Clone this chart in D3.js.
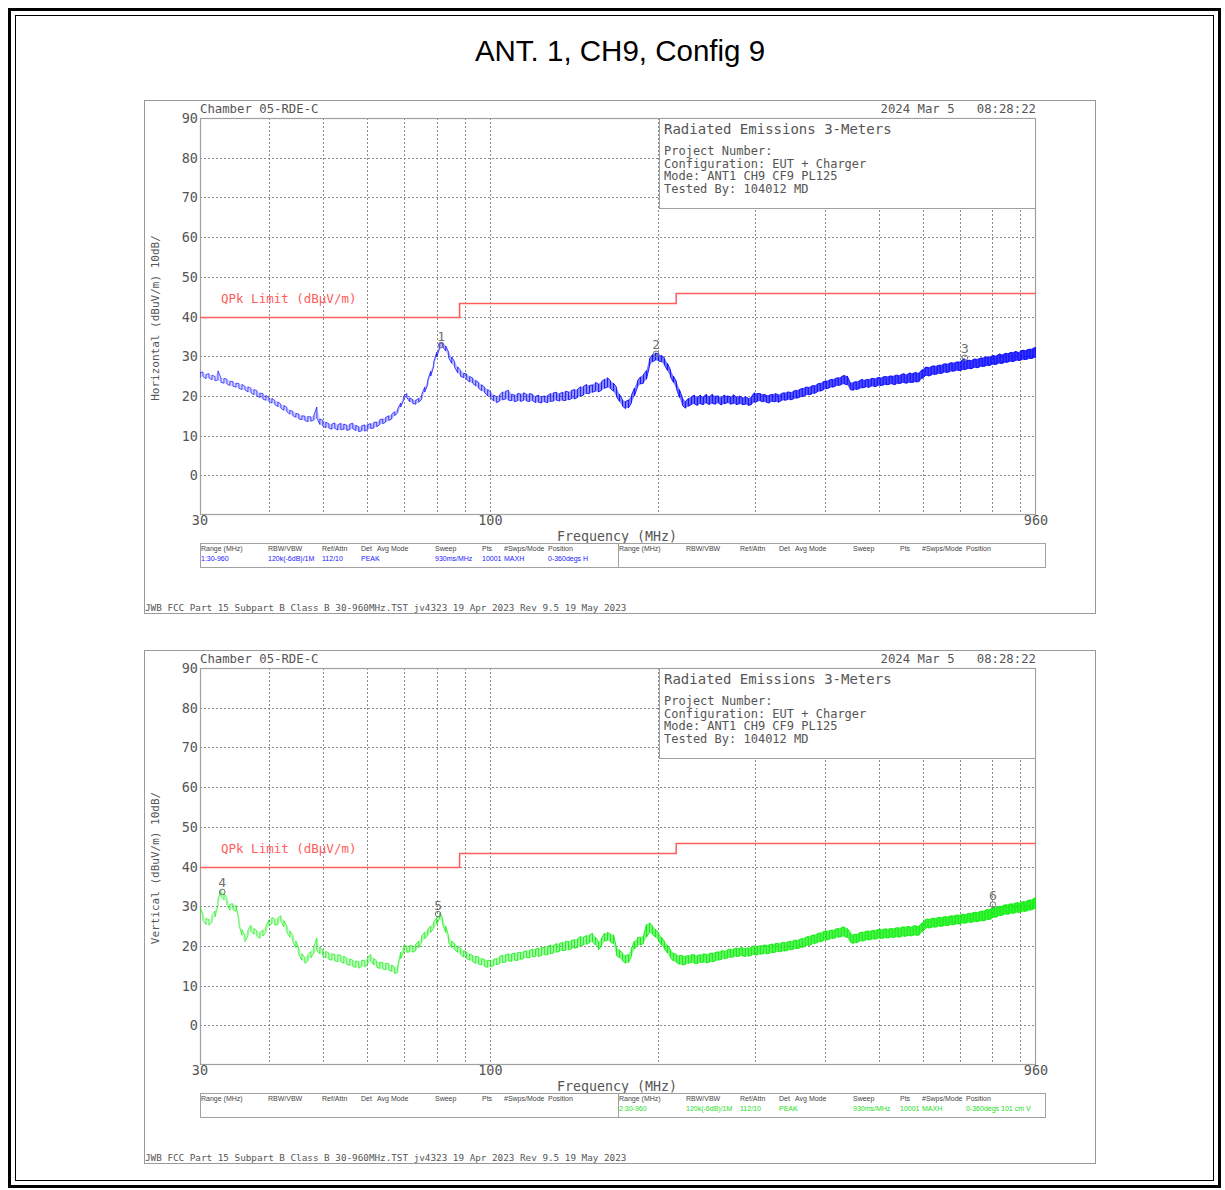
<!DOCTYPE html>
<html>
<head>
<meta charset="utf-8">
<script src="https://cdn.jsdelivr.net/npm/d3@7"></script>
<style>
  body { margin: 0; background: #fff; }
  svg { display: block; }
</style>
</head>
<body>
<svg id="chart" width="1225" height="1190"></svg>
<script>
// ---- Data -------------------------------------------------------------
const chartTitle = "ANT. 1, CH9, Config 9";

// Y grid levels (dBuV/m) and X grid frequencies (MHz)
const yTicks = [0, 10, 20, 30, 40, 50, 60, 70, 80, 90];
const xGridFreqs = [40, 50, 60, 70, 80, 90, 100, 200, 300, 400, 500, 600, 700, 800, 900];
const xTickLabels = [30, 100, 960];

// FCC Part 15 Class B quasi-peak limit at 3 m (step function)
const limitFreqs = [30, 88, 88, 216, 216, 960];
const limitLevels = [40, 40, 43.5, 43.5, 46, 46];

// Sweep span; trace readings are taken at equal steps on the log axis
const sweepStart = 30;
const sweepStop = 960;

// Horizontal antenna, max-hold: lowest / highest level per reading (dBuV/m)
const horizontalLow = [
  24.6, 24.9, 24.3, 24.5, 24.1, 23.8, 24.0, 23.4, 23.2, 23.0,
  22.6, 22.4, 22.2, 21.9, 21.6, 21.5, 21.0, 20.8, 20.3, 20.0,
  19.6, 19.2, 18.9, 18.6, 18.2, 17.8, 17.3, 16.9, 16.4, 16.0,
  15.4, 15.0, 14.6, 14.2, 14.0, 13.8, 13.5, 13.6, 13.9, 14.4,
  12.8, 12.4, 12.0, 11.9, 11.6, 11.8, 11.4, 11.5, 11.6, 11.3,
  11.5, 11.7, 11.3, 11.0, 11.2, 11.1, 11.6, 11.8, 11.9, 12.2,
  12.8, 13.0, 13.4, 13.8, 14.2, 15.0, 15.8, 17.2, 19.0, 19.6,
  18.5, 18.1, 17.9, 18.4, 19.2, 21.0, 22.8, 25.0, 27.4, 29.8,
  32.0, 32.4, 31.3, 29.6, 28.2, 27.2, 25.8, 24.9, 24.6, 24.1,
  23.5, 23.2, 22.5, 21.9, 21.3, 20.8, 20.0, 19.5, 18.7, 18.3,
  18.7, 19.0, 19.2, 18.9, 18.8, 18.5, 18.8, 18.6, 18.9, 18.7,
  18.6, 18.8, 18.3, 18.4, 18.2, 18.5, 18.3, 18.6, 18.7, 18.9,
  18.7, 18.9, 18.8, 19.0, 19.3, 19.2, 19.6, 19.9, 20.2, 20.6,
  20.6, 20.9, 21.2, 21.0, 21.4, 21.9, 22.2, 21.8, 21.2, 19.8,
  18.6, 17.4, 16.8, 17.0, 18.2, 20.0, 22.2, 23.0, 23.2, 24.2,
  27.4, 28.6, 29.0, 28.8, 28.6, 27.8, 26.4, 24.8, 23.4, 21.8,
  19.6, 17.6, 16.9, 17.4, 17.8, 18.0, 17.6, 18.0, 17.8, 18.2,
  17.8, 18.1, 17.9, 18.2, 17.7, 18.0, 18.3, 17.9, 18.1, 17.8,
  18.0, 17.8, 17.9, 17.6, 17.8, 18.4, 18.6, 18.7, 18.5, 18.4,
  18.2, 18.6, 18.5, 18.4, 18.8, 18.9, 19.0, 19.0, 19.2, 19.4,
  19.6, 19.8, 20.1, 20.3, 20.4, 20.6, 21.0, 21.2, 21.5, 21.8,
  22.0, 22.2, 22.4, 22.6, 22.8, 23.0, 22.8, 21.6, 21.4, 21.6,
  21.8, 22.0, 22.2, 22.1, 22.4, 22.3, 22.5, 22.6, 22.7, 22.8,
  22.9, 23.0, 22.8, 23.1, 23.2, 23.3, 23.2, 23.4, 23.4, 23.5,
  23.6, 24.4, 25.0, 25.0, 25.2, 25.4, 25.5, 25.6, 25.8, 25.9,
  26.0, 26.2, 26.3, 26.4, 26.4, 26.6, 26.8, 26.8, 27.0, 27.1,
  27.2, 27.4, 27.5, 27.6, 27.8, 27.9, 28.0, 28.2, 28.2, 28.4,
  28.6, 28.6, 28.8, 28.9, 29.0, 29.2, 29.2, 29.4, 29.5, 29.7
];
const horizontalHigh = [
  25.9, 26.0, 25.4, 25.6, 25.2, 24.9, 26.3, 24.6, 24.4, 24.2,
  23.7, 23.6, 23.2, 23.1, 22.9, 22.4, 22.3, 21.9, 21.6, 21.3,
  20.7, 20.6, 20.1, 19.6, 19.4, 18.8, 18.5, 17.9, 17.6, 17.1,
  16.4, 16.1, 15.6, 15.4, 15.0, 14.9, 14.8, 14.7, 15.2, 17.2,
  14.2, 13.8, 13.4, 13.0, 12.9, 13.2, 12.7, 13.1, 12.9, 12.6,
  12.9, 13.1, 12.6, 12.2, 12.5, 12.7, 12.8, 13.0, 13.3, 13.4,
  14.0, 14.2, 14.6, 15.0, 15.4, 16.0, 16.8, 18.2, 20.0, 20.6,
  19.5, 19.1, 18.9, 19.4, 20.4, 22.2, 24.0, 26.2, 28.6, 31.0,
  33.2, 33.4, 32.6, 31.0, 29.8, 28.6, 27.3, 26.4, 25.7, 25.5,
  24.9, 24.5, 23.9, 23.4, 22.8, 22.2, 21.6, 21.0, 20.2, 19.8,
  20.3, 21.0, 21.2, 21.4, 20.4, 20.2, 20.6, 20.5, 20.8, 20.4,
  20.6, 20.4, 19.9, 20.2, 19.8, 20.0, 20.1, 20.6, 20.8, 20.9,
  20.6, 20.9, 21.2, 21.0, 21.4, 21.6, 21.7, 22.3, 22.4, 22.9,
  22.6, 22.8, 23.4, 23.0, 23.6, 24.2, 24.6, 23.8, 23.2, 22.2,
  20.4, 19.0, 18.6, 19.0, 20.2, 22.0, 23.8, 24.8, 25.4, 26.4,
  29.4, 30.4, 30.8, 30.6, 30.2, 29.6, 28.2, 26.6, 25.0, 23.6,
  21.6, 19.6, 18.6, 19.4, 19.8, 20.2, 19.6, 20.2, 19.8, 20.4,
  19.8, 20.4, 19.9, 20.0, 19.6, 20.2, 20.0, 19.8, 20.3, 19.7,
  20.0, 19.6, 19.8, 19.4, 19.8, 20.8, 20.6, 20.6, 20.4, 20.2,
  20.2, 20.4, 20.6, 20.3, 20.6, 20.8, 21.0, 20.9, 21.2, 21.4,
  21.6, 21.9, 22.2, 22.2, 22.5, 22.6, 23.0, 23.2, 23.6, 23.8,
  24.0, 24.2, 24.4, 24.6, 24.8, 25.2, 25.0, 23.4, 23.4, 23.6,
  23.8, 24.2, 24.0, 24.2, 24.4, 24.4, 24.6, 24.6, 24.8, 24.9,
  25.0, 25.0, 25.2, 25.2, 25.4, 25.6, 25.4, 25.8, 25.7, 25.9,
  25.8, 26.6, 27.2, 27.2, 27.4, 27.6, 27.6, 27.8, 28.0, 28.1,
  28.2, 28.4, 28.4, 28.6, 28.8, 29.4, 28.9, 29.0, 29.2, 29.3,
  29.4, 29.6, 29.8, 29.8, 30.0, 30.2, 30.2, 30.6, 30.4, 30.8,
  30.8, 31.0, 31.2, 31.0, 31.4, 31.5, 31.6, 31.8, 32.0, 32.2
];

// Vertical antenna, max-hold: lowest / highest level per reading (dBuV/m)
const verticalLow = [
  28.0, 26.4, 25.4, 25.2, 26.0, 27.3, 30.2, 32.6, 31.6, 30.4,
  29.0, 29.1, 28.7, 25.2, 22.7, 21.1, 22.5, 23.7, 22.9, 22.4,
  21.9, 22.5, 23.4, 25.0, 25.6, 25.2, 25.4, 26.2, 24.8, 23.4,
  22.2, 21.0, 19.6, 17.8, 16.4, 15.6, 16.2, 17.0, 18.2, 18.8,
  18.0, 17.4, 17.0, 16.6, 16.4, 16.2, 16.0, 16.0, 15.6, 15.3,
  15.1, 14.8, 14.6, 14.4, 14.8, 14.7, 15.4, 16.2, 15.2, 14.6,
  14.3, 14.2, 14.0, 13.9, 13.6, 13.0, 13.4, 16.8, 18.5, 18.4,
  18.5, 18.4, 18.8, 19.6, 21.0, 21.8, 22.6, 23.4, 24.4, 25.5,
  26.9, 25.4, 23.4, 20.8, 19.6, 19.0, 18.4, 17.8, 17.2, 16.8,
  16.4, 16.0, 15.6, 15.4, 15.2, 14.8, 14.6, 14.7, 15.0, 15.2,
  15.6, 15.8, 15.9, 16.2, 16.1, 16.4, 16.3, 16.6, 16.8, 17.0,
  17.0, 17.2, 17.4, 17.3, 17.6, 17.8, 17.7, 18.0, 18.2, 18.4,
  18.6, 18.8, 18.9, 19.0, 19.2, 19.4, 19.6, 20.0, 20.2, 20.4,
  20.8, 21.0, 20.2, 19.0, 20.0, 21.2, 21.4, 21.0, 20.6, 17.6,
  17.0, 16.2, 15.6, 15.8, 17.4, 19.2, 20.1, 20.2, 20.6, 22.2,
  23.4, 22.9, 22.2, 21.4, 20.2, 19.2, 18.2, 17.0, 16.2, 15.8,
  15.4, 15.2, 15.3, 15.6, 15.8, 15.6, 15.5, 15.8, 15.9, 15.7,
  15.9, 16.0, 16.2, 16.4, 16.6, 16.8, 16.9, 17.1, 17.2, 17.3,
  17.4, 17.5, 17.3, 17.4, 17.6, 17.8, 17.7, 17.9, 18.0, 18.0,
  18.1, 18.3, 18.4, 18.5, 18.6, 18.7, 18.8, 19.0, 19.1, 19.3,
  19.4, 19.6, 19.9, 20.1, 20.3, 20.6, 20.8, 21.0, 21.3, 21.5,
  21.6, 21.8, 22.0, 22.2, 22.3, 22.4, 22.1, 21.0, 20.6, 20.8,
  21.1, 21.2, 21.4, 21.5, 21.6, 21.7, 21.8, 21.9, 21.9, 22.0,
  22.0, 22.1, 22.2, 22.2, 22.3, 22.4, 22.5, 22.5, 22.6, 22.7,
  22.7, 23.5, 24.3, 24.5, 24.6, 24.7, 24.8, 24.9, 25.0, 25.1,
  25.2, 25.3, 25.4, 25.5, 25.6, 25.7, 25.8, 25.9, 26.0, 26.1,
  26.2, 26.3, 26.4, 26.6, 26.8, 27.2, 27.3, 27.6, 27.8, 28.0,
  28.0, 28.2, 28.3, 28.4, 28.5, 28.7, 28.8, 29.0, 29.2, 29.4
];
const verticalHigh = [
  29.8, 28.0, 26.9, 26.6, 27.6, 28.8, 31.8, 34.0, 33.2, 32.0,
  30.5, 30.6, 30.2, 26.8, 24.1, 22.6, 24.0, 25.2, 24.4, 23.8,
  23.4, 24.0, 25.0, 26.6, 27.2, 26.7, 27.0, 27.6, 26.4, 25.0,
  23.8, 22.6, 21.2, 19.4, 18.0, 17.1, 17.8, 18.6, 19.8, 22.0,
  19.6, 19.0, 18.6, 18.2, 18.0, 17.8, 17.8, 17.6, 17.4, 16.9,
  16.7, 16.4, 16.2, 16.0, 16.4, 16.3, 17.2, 17.8, 16.8, 16.2,
  15.9, 15.8, 15.6, 15.5, 15.2, 14.6, 15.0, 18.4, 20.1, 20.0,
  20.1, 20.0, 20.4, 21.2, 22.6, 23.4, 24.2, 25.0, 26.0, 27.1,
  28.3, 27.0, 25.0, 22.4, 21.2, 20.6, 20.0, 19.4, 18.8, 18.4,
  18.0, 17.6, 17.4, 17.2, 16.8, 16.6, 16.4, 16.3, 16.6, 16.8,
  17.4, 17.6, 17.8, 18.0, 18.0, 18.2, 18.3, 18.4, 18.6, 18.8,
  18.9, 19.2, 19.2, 19.4, 19.6, 19.6, 19.9, 20.2, 20.1, 20.6,
  20.6, 20.9, 21.2, 21.1, 21.4, 21.6, 21.8, 22.4, 22.2, 22.6,
  22.8, 23.2, 22.2, 21.0, 22.0, 23.2, 23.4, 23.0, 22.8, 19.6,
  19.0, 18.2, 17.6, 17.8, 19.4, 21.2, 22.1, 22.2, 22.6, 25.4,
  25.8, 25.1, 24.2, 23.4, 22.2, 21.2, 20.2, 19.0, 18.2, 17.8,
  17.6, 17.6, 17.4, 17.6, 17.8, 17.8, 17.6, 17.8, 18.0, 17.9,
  18.1, 18.2, 18.4, 18.5, 18.8, 18.7, 19.0, 19.2, 19.2, 19.5,
  19.4, 19.6, 19.4, 19.5, 19.8, 20.0, 19.8, 20.1, 20.2, 20.2,
  20.3, 20.5, 20.6, 20.6, 20.8, 20.9, 21.0, 21.2, 21.3, 21.5,
  21.6, 21.9, 22.1, 22.4, 22.6, 22.8, 23.1, 23.3, 23.6, 23.8,
  23.8, 24.0, 24.2, 24.4, 24.6, 24.8, 24.4, 23.4, 22.8, 23.0,
  23.3, 23.5, 23.6, 23.8, 23.8, 23.9, 24.1, 24.2, 24.2, 24.3,
  24.3, 24.4, 24.5, 24.6, 24.7, 24.8, 24.9, 24.8, 25.0, 25.1,
  25.0, 25.8, 26.6, 26.8, 26.9, 27.0, 27.1, 27.2, 27.3, 27.4,
  27.5, 27.6, 27.7, 27.8, 27.9, 28.0, 28.1, 28.2, 28.4, 28.5,
  28.6, 28.8, 29.0, 29.2, 29.4, 29.8, 29.8, 30.0, 30.2, 30.4,
  30.5, 30.6, 30.8, 30.9, 31.0, 31.2, 31.4, 31.6, 31.8, 32.2
];

// Peak markers: number, frequency (MHz), level (dBuV/m)
const horizontalMarkers = [
  { n: "1", f: 81.5, v: 32.8 },
  { n: "2", f: 198.7, v: 30.6 },
  { n: "3", f: 714.6, v: 29.6 }
];
const verticalMarkers = [
  { n: "4", f: 32.9, v: 33.6 },
  { n: "5", f: 80.5, v: 28.0 },
  { n: "6", f: 803.0, v: 30.4 }
];

// Header texts
const chamberName = "Chamber 05-RDE-C";
const stampText = "2024 Mar 5   08:28:22";
const infoTitle = "Radiated Emissions 3-Meters";
const infoLines = ["Project Number:", "Configuration: EUT + Charger", "Mode: ANT1 CH9 CF9 PL125", "Tested By: 104012 MD"];
const limitLabel = "QPk Limit (dB\u00B5V/m)";
const footerText = "JWB FCC Part 15 Subpart B Class B 30-960MHz.TST jv4323 19 Apr 2023 Rev 9.5 19 May 2023";

// Sweep settings table
const tableHeaders = ["Range (MHz)", "RBW/VBW", "Ref/Attn", "Det", "Avg Mode", "Sweep", "Pts", "#Swps/Mode", "Position"];
const sweepRowH = ["1:30-960", "120k(-6dB)/1M", "112/10", "PEAK", "-", "930ms/MHz", "10001", "MAXH", "0-360degs H"];
const sweepRowV = ["2:30-960", "120k(-6dB)/1M", "112/10", "PEAK", "-", "930ms/MHz", "10001", "MAXH", "0-360degs 101 cm V"];

// ---- Drawing ----------------------------------------------------------
const svg = d3.select("#chart");
const MONO = "'DejaVu Sans Mono', 'Liberation Mono', monospace";
const SANS = "'Liberation Sans', Arial, sans-serif";
const TXT = "#555";

svg.append("rect").attr("width", 1225).attr("height", 1190).attr("fill", "#fff");

// outer double frame
svg.append("rect").attr("x", 9.5).attr("y", 9.5).attr("width", 1210).attr("height", 1177)
  .attr("fill", "none").attr("stroke", "#000").attr("stroke-width", 3);
svg.append("rect").attr("x", 15.5).attr("y", 15.5).attr("width", 1198).attr("height", 1165)
  .attr("fill", "none").attr("stroke", "#000").attr("stroke-width", 1);

svg.append("text").attr("x", 620).attr("y", 61).attr("text-anchor", "middle")
  .attr("font-family", SANS).attr("font-size", 29.5).attr("fill", "#000").text(chartTitle);

const tableCols = [0, 67, 121, 160, 176, 234, 281, 303, 347];
const defs = svg.append("defs");

// readings sit at equal steps of log-frequency across the sweep span
function readings(low, high) {
  const n = low.length;
  const ratio = sweepStop / sweepStart;
  return low.map((lo, i) => ({ f: sweepStart * Math.pow(ratio, i / (n - 1)), lo, hi: high[i] }));
}

// a linear sweep packs more points per pixel towards the top of a log axis,
// so the trace reads thin at low frequency and solid at high frequency
function densityGradient(id, color, stops) {
  const gr = defs.append("linearGradient").attr("id", id)
    .attr("gradientUnits", "userSpaceOnUse").attr("x1", 200).attr("x2", 1036).attr("y1", 0).attr("y2", 0);
  stops.forEach(([o, a]) => gr.append("stop").attr("offset", o).attr("stop-color", color).attr("stop-opacity", a));
}

function drawPanel(cfg) {
  const g = svg.append("g").attr("transform", `translate(0,${cfg.offset})`);
  const x = d3.scaleLog().domain([sweepStart, sweepStop]).range([200, 1036]);
  const y = d3.scaleLinear().domain([-10, 90]).range([515, 118]);

  // panel border
  g.append("rect").attr("x", 144.5).attr("y", 100.5).attr("width", 951).attr("height", 513)
    .attr("fill", "none").attr("stroke", "#9a9a9a").attr("stroke-width", 1);

  // dotted grid
  g.append("g").selectAll("line").data(yTicks.filter(d => d < 90)).join("line")
    .attr("x1", 200).attr("x2", 1036)
    .attr("y1", d => Math.round(y(d)) + 0.5).attr("y2", d => Math.round(y(d)) + 0.5)
    .attr("stroke", "#8a8a8a").attr("stroke-width", 1).attr("stroke-dasharray", "2,2");
  g.append("g").selectAll("line").data(xGridFreqs).join("line")
    .attr("x1", d => Math.round(x(d)) + 0.5).attr("x2", d => Math.round(x(d)) + 0.5)
    .attr("y1", 118).attr("y2", 515)
    .attr("stroke", "#8a8a8a").attr("stroke-width", 1).attr("stroke-dasharray", "2,2");

  // plot frame
  g.append("rect").attr("x", 200.5).attr("y", 118.5).attr("width", 835).attr("height", 396)
    .attr("fill", "none").attr("stroke", "#a0a0a0").attr("stroke-width", 1.2);

  // info box
  g.append("rect").attr("x", 659.5).attr("y", 118.5).attr("width", 376).attr("height", 90)
    .attr("fill", "#fff").attr("stroke", "#a0a0a0").attr("stroke-width", 1);
  g.append("text").attr("x", 664).attr("y", 134).attr("font-family", MONO).attr("font-size", 14)
    .attr("fill", TXT).text(infoTitle);
  g.append("g").selectAll("text").data(infoLines).join("text")
    .attr("x", 664).attr("y", (d, i) => 155 + i * 12.6)
    .attr("font-family", MONO).attr("font-size", 12).attr("fill", TXT).text(d => d);

  // header line
  g.append("text").attr("x", 200).attr("y", 113).attr("font-family", MONO).attr("font-size", 12.3)
    .attr("fill", TXT).text(chamberName);
  g.append("text").attr("x", 1036).attr("y", 113).attr("text-anchor", "end")
    .style("white-space", "pre")
    .attr("font-family", MONO).attr("font-size", 12.3).attr("fill", TXT).text(stampText);

  // tick labels
  g.append("g").selectAll("text").data(yTicks).join("text")
    .attr("x", 198).attr("y", d => y(d) + 5).attr("text-anchor", "end")
    .attr("font-family", MONO).attr("font-size", 13.5).attr("fill", TXT).text(d => d);
  g.append("g").selectAll("text").data(xTickLabels).join("text")
    .attr("x", d => x(d)).attr("y", 525).attr("text-anchor", "middle")
    .attr("font-family", MONO).attr("font-size", 13.5).attr("fill", TXT).text(d => d);
  g.append("text").attr("x", 617).attr("y", 541).attr("text-anchor", "middle")
    .attr("font-family", MONO).attr("font-size", 13.3).attr("fill", TXT).text("Frequency (MHz)");

  // y axis title
  g.append("text").attr("transform", "translate(159,318) rotate(-90)").attr("text-anchor", "middle")
    .attr("font-family", MONO).attr("font-size", 11).attr("fill", TXT).text(cfg.yTitle);

  // limit line
  const limitPts = limitFreqs.map((f, i) => [f, limitLevels[i]]);
  g.append("path").datum(limitPts)
    .attr("d", d3.line().x(d => x(d[0])).y(d => Math.round(y(d[1])) + 0.5))
    .attr("fill", "none").attr("stroke", "#ff5c5c").attr("stroke-width", 1.5);
  g.append("text").attr("x", 221).attr("y", 303)
    .attr("font-family", MONO).attr("font-size", 12.5).attr("fill", "#ff5c5c").text(limitLabel);

  // trace: max-hold envelope, stroked as a vertical low-to-high run per reading
  const fillId = "fill" + cfg.offset, lineId = "line" + cfg.offset;
  densityGradient(fillId, cfg.color, [[0, 0.15], [0.35, 0.3], [0.6, 0.6], [1, 0.8]]);
  densityGradient(lineId, cfg.color, [[0, 0.7], [0.35, 0.8], [0.6, 0.95], [1, 1]]);
  const pts = readings(cfg.low, cfg.high);
  const sweepPath = [];
  pts.forEach((d, i) => {
    const a = i % 2 ? d.hi : d.lo;
    const b = i % 2 ? d.lo : d.hi;
    sweepPath.push([d.f, a], [d.f, b]);
  });
  const clip = "clip" + cfg.offset;
  g.append("clipPath").attr("id", clip).append("rect")
    .attr("x", 200).attr("y", 118).attr("width", 836).attr("height", 397);
  const tg = g.append("g").attr("clip-path", `url(#${clip})`);
  tg.append("path").datum(pts)
    .attr("d", d3.area().x(d => x(d.f)).y0(d => y(d.lo)).y1(d => y(d.hi)))
    .attr("fill", `url(#${fillId})`);
  tg.append("path").datum(sweepPath)
    .attr("d", d3.line().x(d => x(d[0])).y(d => y(d[1])))
    .attr("fill", "none").attr("stroke", `url(#${lineId})`).attr("stroke-width", 0.9)
    .attr("stroke-linejoin", "round");

  // markers
  const mk = g.append("g").selectAll("g").data(cfg.markers).join("g");
  mk.append("circle").attr("cx", d => x(d.f)).attr("cy", d => y(d.v)).attr("r", 2.8)
    .attr("fill", "none").attr("stroke", "#707070").attr("stroke-width", 1);
  mk.append("text").attr("x", d => x(d.f)).attr("y", d => y(d.v) - 4.5).attr("text-anchor", "middle")
    .attr("font-family", MONO).attr("font-size", 13).attr("fill", "#707070").text(d => d.n);

  // sweep settings table
  g.append("rect").attr("x", 200.5).attr("y", 543.5).attr("width", 845).attr("height", 24)
    .attr("fill", "#fff").attr("stroke", "#a0a0a0").attr("stroke-width", 1);
  g.append("line").attr("x1", 618.5).attr("x2", 618.5).attr("y1", 543.5).attr("y2", 567.5)
    .attr("stroke", "#a0a0a0");
  [200, 618].forEach((x0, side) => {
    g.append("g").selectAll("text").data(tableHeaders).join("text")
      .attr("x", (d, i) => x0 + 1 + tableCols[i]).attr("y", 551)
      .attr("font-family", SANS).attr("font-size", 7).attr("fill", "#444").text(d => d);
    if (side === cfg.tableSide) {
      g.append("g").selectAll("text").data(cfg.row).join("text")
        .attr("x", (d, i) => x0 + 1 + tableCols[i]).attr("y", 561)
        .attr("font-family", SANS).attr("font-size", 7).attr("fill", cfg.tableColor).text(d => d);
    }
  });

  // footer
  g.append("text").attr("x", 145).attr("y", 611).attr("font-family", MONO).attr("font-size", 9.3)
    .attr("fill", TXT).text(footerText);
}

drawPanel({ offset: 0, yTitle: "Horizontal (dBuV/m) 10dB/", low: horizontalLow, high: horizontalHigh,
  markers: horizontalMarkers, color: "#0000ff", tableSide: 0, row: sweepRowH, tableColor: "#2020ff" });
drawPanel({ offset: 550, yTitle: "Vertical (dBuV/m) 10dB/", low: verticalLow, high: verticalHigh,
  markers: verticalMarkers, color: "#00ee00", tableSide: 1, row: sweepRowV, tableColor: "#22dd22" });
</script>
</body>
</html>
